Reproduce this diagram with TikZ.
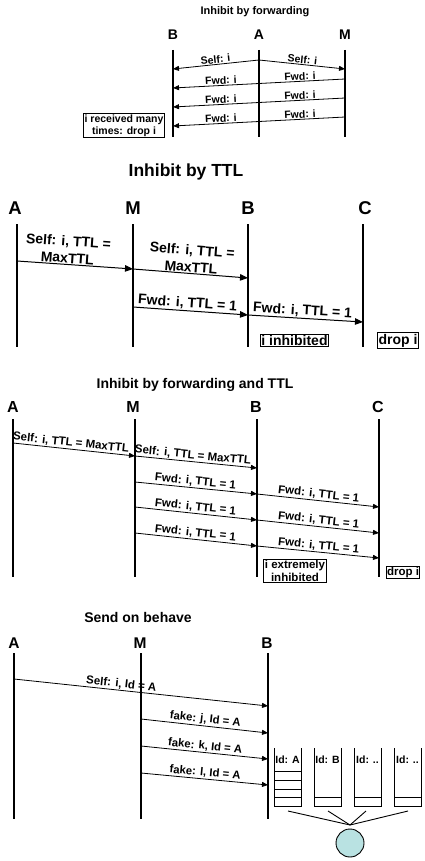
\documentclass[tikz,border=0pt]{standalone}
\usepackage{fontspec}
\setmainfont{Liberation Sans}
\usetikzlibrary{arrows.meta}
\definecolor{qcyan}{RGB}{185,226,226}
\begin{document}
\begin{tikzpicture}[x=1pt,y=-1pt,
  fs/.style 2 args={font=\fontsize{#1}{#2}\selectfont\bfseries},
  every node/.style={inner sep=1pt},
  life/.style={line width=#1},
  msg/.style={line width=0.8pt,-{Triangle[length=6pt,width=5pt]}},
  msgb/.style={line width=1pt,-{Triangle[length=8pt,width=6.5pt]}},
  lbl/.style={sloped, above, inner sep=0.8pt},
  box/.style={draw, line width=1pt, inner sep=1.5pt, align=center},
  qline/.style={line width=0.9pt},
]
\useasboundingbox (0,0) rectangle (424,861);

% ================= Section 1 =================
\node[fs={11}{13}] (t1) at (255,12) {Inhibit by forwarding};
\node[fs={14}{16}] (B1) at (173,35) {B};
\node[fs={14}{16}] (A1) at (259,35) {A};
\node[fs={14}{16}] (M1) at (345,35) {M};
\coordinate (B1t) at (173,50); \coordinate (B1b) at (173,137);
\coordinate (A1t) at (259,50); \coordinate (A1b) at (259,137);
\coordinate (M1t) at (345,50); \coordinate (M1b) at (345,137);
\draw[life=1.2pt] (B1t) -- (B1b);
\draw[life=1.2pt] (A1t) -- (A1b);
\draw[life=1.2pt] (M1t) -- (M1b);
\coordinate (a1s) at (259,60);
\coordinate (b1s) at (173,69);
\coordinate (m1s) at (345,69);
\draw[msg] (a1s) -- node[lbl,fs={10.5}{12}] {Self: i} (b1s);
\draw[msg] (a1s) -- node[lbl,fs={10.5}{12}] {Self: i} (m1s);
\coordinate (m1f1) at (345,79); \coordinate (b1f1) at (173,88);
\coordinate (m1f2) at (345,98); \coordinate (b1f2) at (173,107);
\coordinate (m1f3) at (345,117); \coordinate (b1f3) at (173,126);
\draw[msg] (m1f1) -- node[lbl,fs={10.5}{12},pos=0.26] {Fwd: i} node[lbl,fs={10.5}{12},pos=0.72] {Fwd: i} (b1f1);
\draw[msg] (m1f2) -- node[lbl,fs={10.5}{12},pos=0.26] {Fwd: i} node[lbl,fs={10.5}{12},pos=0.72] {Fwd: i} (b1f2);
\draw[msg] (m1f3) -- node[lbl,fs={10.5}{12},pos=0.26] {Fwd: i} node[lbl,fs={10.5}{12},pos=0.72] {Fwd: i} (b1f3);
\node[box,fs={10.5}{12}] (drop1) at (124,125.5) {i received many\\times: drop i};

% ================= Section 2 =================
\node[fs={17.5}{20}] (t2) at (186,172) {Inhibit by TTL};
\node[fs={18.5}{20}] (A2) at (15,208) {A};
\node[fs={18.5}{20}] (M2) at (133,208) {M};
\node[fs={18.5}{20}] (B2) at (248,208) {B};
\node[fs={18.5}{20}] (C2) at (365,208) {C};
\coordinate (A2t) at (17,224); \coordinate (A2b) at (17,347);
\coordinate (M2t) at (133,224); \coordinate (M2b) at (133,347);
\coordinate (B2t) at (248,224); \coordinate (B2b) at (248,347);
\coordinate (C2t) at (363,224); \coordinate (C2b) at (363,347);
\draw[life=2pt] (A2t) -- (A2b);
\draw[life=2pt] (M2t) -- (M2b);
\draw[life=2pt] (B2t) -- (B2b);
\draw[life=2pt] (C2t) -- (C2b);
\coordinate (a2s) at (17,261); \coordinate (m2s) at (133,269); \coordinate (b2s) at (248,278);
\coordinate (m2f) at (133,307); \coordinate (b2f) at (248,315); \coordinate (c2f) at (363,322);
\draw[msgb] (a2s) -- node[lbl,fs={14}{17},align=center,pos=0.43] {Self: i, TTL =\\MaxTTL} (m2s);
\draw[msgb] (m2s) -- node[lbl,fs={14}{17},align=center,pos=0.5] {Self: i, TTL =\\MaxTTL} (b2s);
\draw[msgb] (m2f) -- node[lbl,fs={14}{16},pos=0.47] {Fwd: i, TTL = 1} (b2f);
\draw[msgb] (b2f) -- node[lbl,fs={14}{16},pos=0.47] {Fwd: i, TTL = 1} (c2f);
\node[box,fs={14}{16},inner sep=1pt] (inh2) at (294.5,340.5) {i inhibited};
\node[box,fs={14}{16},inner sep=1pt] (drop2) at (398,340.5) {drop i};

% ================= Section 3 =================
\node[fs={14}{16}] (t3) at (195,385) {Inhibit by forwarding and TTL};
\node[fs={16}{18}] (A3) at (13,407) {A};
\node[fs={16}{18}] (M3) at (133,407) {M};
\node[fs={16}{18}] (B3) at (256,407) {B};
\node[fs={16}{18}] (C3) at (378,407) {C};
\coordinate (A3t) at (13,419); \coordinate (A3b) at (13,577);
\coordinate (M3t) at (135,419); \coordinate (M3b) at (135,577);
\coordinate (B3t) at (257,419); \coordinate (B3b) at (257,577);
\coordinate (C3t) at (379,419); \coordinate (C3b) at (379,577);
\draw[life=1.5pt] (A3t) -- (A3b);
\draw[life=1.5pt] (M3t) -- (M3b);
\draw[life=1.5pt] (B3t) -- (B3b);
\draw[life=1.5pt] (C3t) -- (C3b);
\coordinate (a3s) at (13,443); \coordinate (m3s) at (135,456); \coordinate (b3s) at (257,468);
\draw[msg] (a3s) -- node[lbl,fs={11.5}{13},pos=0.47] {Self: i, TTL = MaxTTL} (m3s);
\draw[msg] (m3s) -- node[lbl,fs={11.5}{13},pos=0.47] {Self: i, TTL = MaxTTL} (b3s);
\coordinate (m3f1) at (135,482); \coordinate (b3f1) at (257,494); \coordinate (c3f1) at (379,507);
\coordinate (m3f2) at (135,507); \coordinate (b3f2) at (257,520); \coordinate (c3f2) at (379,533);
\coordinate (m3f3) at (135,533); \coordinate (b3f3) at (257,546); \coordinate (c3f3) at (379,558);
\draw[msg] (m3f1) -- node[lbl,fs={11.5}{13},pos=0.49] {Fwd: i, TTL = 1} (b3f1);
\draw[msg] (b3f1) -- node[lbl,fs={11.5}{13},pos=0.5] {Fwd: i, TTL = 1} (c3f1);
\draw[msg] (m3f2) -- node[lbl,fs={11.5}{13},pos=0.49] {Fwd: i, TTL = 1} (b3f2);
\draw[msg] (b3f2) -- node[lbl,fs={11.5}{13},pos=0.5] {Fwd: i, TTL = 1} (c3f2);
\draw[msg] (m3f3) -- node[lbl,fs={11.5}{13},pos=0.49] {Fwd: i, TTL = 1} (b3f3);
\draw[msg] (b3f3) -- node[lbl,fs={11.5}{13},pos=0.5] {Fwd: i, TTL = 1} (c3f3);
\node[box,fs={11.5}{12.5},inner sep=1pt] (inh3) at (295,571) {i extremely\\inhibited};
\node[box,fs={11.5}{12},inner sep=0.6pt] (drop3) at (403,572.5) {drop i};

% ================= Section 4 =================
\node[fs={14}{16}] (t4) at (138,617) {Send on behave};
\node[fs={15.5}{18}] (A4) at (14,643) {A};
\node[fs={15.5}{18}] (M4) at (140,643) {M};
\node[fs={15.5}{18}] (B4) at (267,643) {B};
\coordinate (A4t) at (14,653); \coordinate (A4b) at (14,819);
\coordinate (M4t) at (141,653); \coordinate (M4b) at (141,819);
\coordinate (B4t) at (268,653); \coordinate (B4b) at (268,819);
\draw[life=1.5pt] (A4t) -- (A4b);
\draw[life=1.5pt] (M4t) -- (M4b);
\draw[life=1.5pt] (B4t) -- (B4b);
\coordinate (a4s) at (14,679); \coordinate (b4s) at (268,706);
\coordinate (m4f1) at (141,719); \coordinate (b4f1) at (268,733);
\coordinate (m4f2) at (141,746); \coordinate (b4f2) at (268,759);
\coordinate (m4f3) at (141,773); \coordinate (b4f3) at (268,785);
\draw[msg] (a4s) -- node[lbl,fs={11.5}{13},pos=0.42] {Self: i, Id = A} (b4s);
\draw[msg] (m4f1) -- node[lbl,fs={11.3}{13},pos=0.5] {fake: j, Id = A} (b4f1);
\draw[msg] (m4f2) -- node[lbl,fs={11.3}{13},pos=0.5] {fake: k, Id = A} (b4f2);
\draw[msg] (m4f3) -- node[lbl,fs={11.3}{13},pos=0.5] {fake: l, Id = A} (b4f3);

% queues
\draw[qline] (274,748) -- (274,806) -- (301,806) -- (301,748);
\foreach \yy in {771,780,789,797} \draw[qline] (274,\yy) -- (301,\yy);
\draw[qline] (314,748) -- (314,806) -- (341,806) -- (341,748);
\draw[qline] (314,797) -- (341,797);
\draw[qline] (354,748) -- (354,806) -- (381,806) -- (381,748);
\draw[qline] (354,797) -- (381,797);
\draw[qline] (394,748) -- (394,806) -- (421,806) -- (421,748);
\draw[qline] (394,797) -- (421,797);
\node[fs={10.5}{12}] (qA) at (287.5,760) {Id: A};
\node[fs={10.5}{12}] (qB) at (327.5,760) {Id: B};
\node[fs={10.5}{12}] (qC) at (367.5,760) {Id: ..};
\node[fs={10.5}{12}] (qD) at (407.5,760) {Id: ..};
\coordinate (q1) at (288,811); \coordinate (q2) at (328,811);
\coordinate (q3) at (366,811); \coordinate (q4) at (408,811);
\coordinate (apex) at (350,825);
\draw[line width=0.9pt] (q1) -- (apex);
\draw[line width=0.9pt] (q2) -- (apex);
\draw[line width=0.9pt] (q3) -- (apex);
\draw[line width=0.9pt] (q4) -- (apex);
\node[circle, draw, fill=qcyan, minimum size=28pt, inner sep=0pt, line width=0.9pt] (pool) at (350,843) {};
\end{tikzpicture}
\end{document}
